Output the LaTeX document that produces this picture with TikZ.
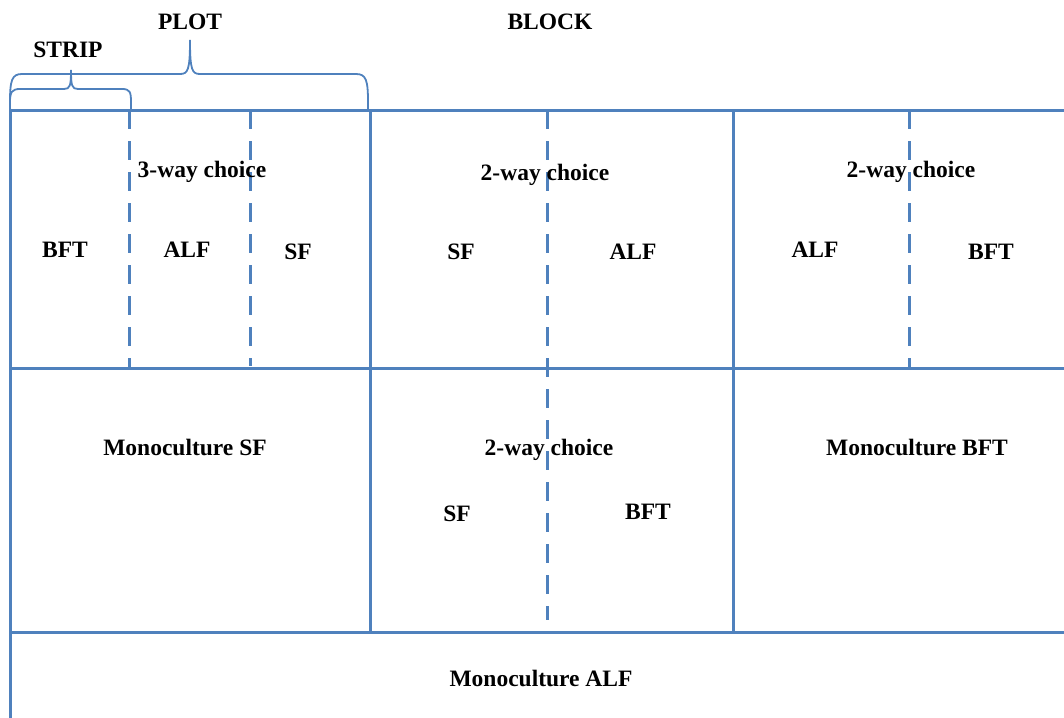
\documentclass[tikz,border=0pt]{standalone}
\usepackage{fontspec}
\setmainfont{Liberation Serif}
\definecolor{lineblue}{HTML}{4F81BD}
\begin{document}
\begin{tikzpicture}[x=1pt,y=-1pt,
  grid/.style={draw=lineblue,line width=3pt},
  dashline/.style={draw=lineblue,line width=3pt,dash pattern=on 19pt off 12pt},
  brace/.style={draw=lineblue,line width=1.8pt},
  lbl/.style={font=\fontsize{23.5}{27}\selectfont\bfseries,inner sep=0pt,anchor=center}]
\useasboundingbox (0,0) rectangle (1064,717);
% grid
\draw[grid] (10,110) -- (1066,110);
\draw[grid] (10,368) -- (1066,368);
\draw[grid] (10,632) -- (1066,632);
\draw[grid] (10,108.5) -- (10,719);
\draw[grid] (370,110) -- (370,632);
\draw[grid] (733,110) -- (733,632);
% dashed strip dividers
\draw[dashline] (129,110) -- (129,368);
\draw[dashline] (250,110) -- (250,366);
\draw[dashline] (547,110) -- (547,620);
\draw[dashline] (909,110) -- (909,368);
% braces
\draw[brace] (10,110) -- (10,102) .. controls (10,92) and (12,89) .. (20,89)
  -- (64,89) .. controls (70,89) and (71,86) .. (71,70)
  .. controls (71,86) and (72,89) .. (78,89) -- (122,89)
  .. controls (130,89) and (131,92) .. (131,102) -- (131,110);
\draw[brace] (10,102) .. controls (10,80) and (12,74) .. (22,74)
  -- (180,74) .. controls (188,74) and (190,70) .. (190,40)
  .. controls (190,70) and (192,74) .. (200,74) -- (356,74)
  .. controls (366,74) and (368,80) .. (368,102) -- (368,110);
% labels
\node[lbl] (plot) at (190,22) {PLOT};
\node[lbl] (strip) at (68,50) {STRIP};
\node[lbl] (block) at (550,22) {BLOCK};
\node[lbl] (c1) at (202,172) {3-way choice};
\node[lbl] (b1) at (65,250) {BFT};
\node[lbl] (a1) at (187,250) {ALF};
\node[lbl] (s1) at (298,252) {SF};
\node[lbl] (c2) at (545,175) {2-way choice};
\node[lbl] (s2) at (461,252) {SF};
\node[lbl] (a2) at (633,252) {ALF};
\node[lbl] (c3) at (911,172) {2-way choice};
\node[lbl] (a3) at (815,250) {ALF};
\node[lbl] (b3) at (991,252) {BFT};
\node[lbl] (m1) at (185,447) {Monoculture SF};
\node[lbl] (c4) at (549,450) {2-way choice};
\node[lbl] (s4) at (457,514) {SF};
\node[lbl] (b4) at (648,512) {BFT};
\node[lbl] (m2) at (917,447) {Monoculture BFT};
\node[lbl] (m3) at (541,678) {Monoculture ALF};
\end{tikzpicture}
\end{document}
